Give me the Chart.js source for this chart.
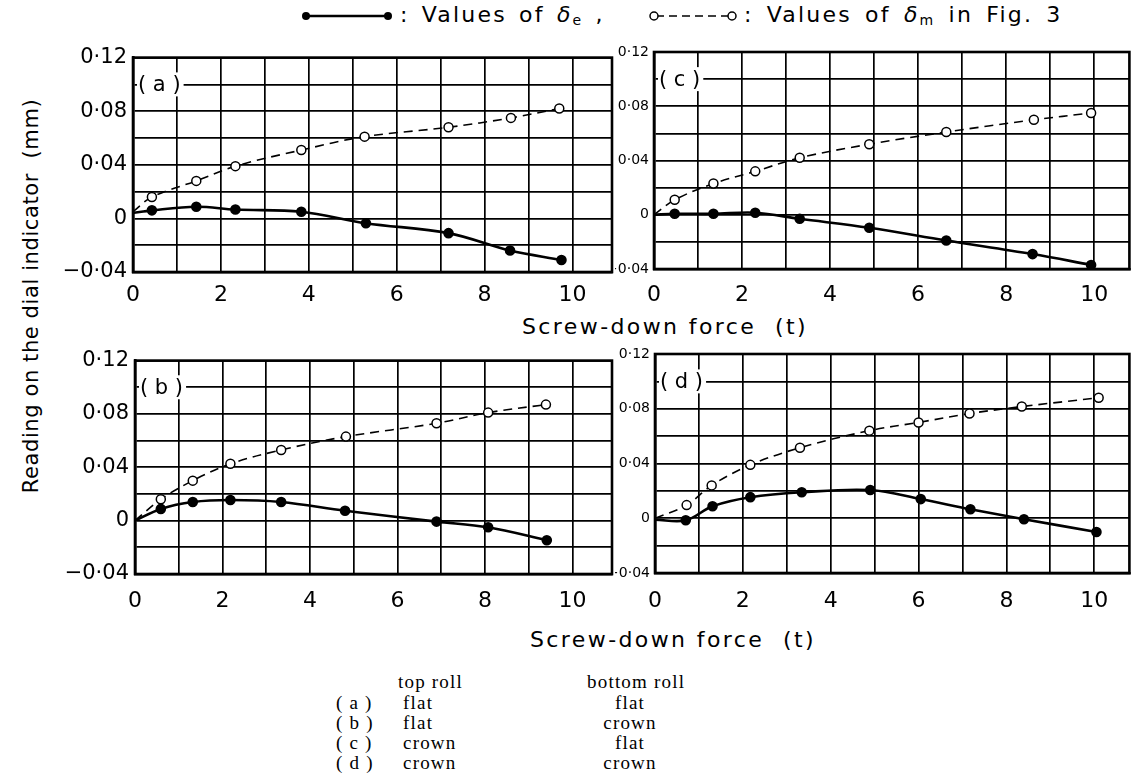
<!DOCTYPE html>
<html>
<head>
<meta charset="utf-8">
<script src="https://cdn.jsdelivr.net/npm/chart.js@4.4.1/dist/chart.umd.min.js"></script>
<style>
  body{margin:0;background:#fff;width:1136px;height:783px;position:relative;overflow:hidden;font-family:"DejaVu Sans",sans-serif;color:#000}
  canvas{position:absolute}
  .t{position:absolute;white-space:nowrap;font-size:22px;line-height:26px}
  .tab{position:absolute;white-space:nowrap;font-family:"Liberation Serif",serif;font-size:19px;line-height:20px;letter-spacing:1.2px}
  .c2{transform:translateX(-50%)}
  sub{font-size:14px;vertical-align:-3px;line-height:0}
</style>
</head>
<body>

<!-- legend -->
<svg style="position:absolute;left:300px;top:7px" width="94" height="18">
  <line x1="6" y1="9" x2="88" y2="9" stroke="#000" stroke-width="2.6"/>
  <circle cx="6" cy="9" r="4" fill="#000"/><circle cx="88" cy="9" r="4" fill="#000"/>
</svg>
<div class="t" style="left:400px;top:2px;letter-spacing:2.2px;word-spacing:3px">: Values of <i>δ</i><sub>e</sub> ,</div>
<svg style="position:absolute;left:646px;top:7px" width="94" height="18">
  <line x1="10" y1="9" x2="84" y2="9" stroke="#000" stroke-width="1.6" stroke-dasharray="8,5"/>
  <circle cx="8" cy="9" r="4" fill="#fff" stroke="#000" stroke-width="1.5"/>
  <circle cx="86" cy="9" r="4" fill="#fff" stroke="#000" stroke-width="1.5"/>
</svg>
<div class="t" style="left:744px;top:2px;letter-spacing:2.2px;word-spacing:4px">: Values of <i>δ</i><sub>m</sub> in Fig. 3</div>

<canvas id="pa" width="575" height="273" style="left:45px;top:39px"></canvas>
<canvas id="pc" width="521" height="274" style="left:615px;top:38px"></canvas>
<canvas id="pb" width="575" height="275" style="left:45px;top:342px"></canvas>
<canvas id="pd" width="521" height="277" style="left:615px;top:340px"></canvas>

<div class="t" style="left:522px;top:314px;letter-spacing:2.4px">Screw-down force&nbsp;&nbsp;(t)</div>
<div class="t" style="left:530px;top:627px;letter-spacing:2.4px">Screw-down force&nbsp;&nbsp;(t)</div>
<div class="t" style="left:31px;top:296px;font-size:21px;transform:translate(-50%,-50%) rotate(-90deg);letter-spacing:0.6px">Reading on the dial indicator&nbsp; (mm)</div>

<!-- roll table -->
<div class="tab" style="left:398px;top:672px">top roll</div>
<div class="tab" style="left:587px;top:672px">bottom roll</div>
<div class="tab" style="left:336px;top:693px">( a )</div>
<div class="tab" style="left:336px;top:713px">( b )</div>
<div class="tab" style="left:336px;top:733px">( c )</div>
<div class="tab" style="left:336px;top:753px">( d )</div>
<div class="tab" style="left:403px;top:693px">flat</div>
<div class="tab" style="left:403px;top:713px">flat</div>
<div class="tab" style="left:403px;top:733px">crown</div>
<div class="tab" style="left:403px;top:753px">crown</div>
<div class="tab c2" style="left:630px;top:693px">flat</div>
<div class="tab c2" style="left:630px;top:713px">crown</div>
<div class="tab c2" style="left:630px;top:733px">flat</div>
<div class="tab c2" style="left:630px;top:753px">crown</div>

<script>
// tick labels
const xLabelValues = [0, 2, 4, 6, 8, 10];
const yLabelValues = [-0.04, 0, 0.04, 0.08, 0.12];
const yLabelTexts = ['−0·04', '0', '0·04', '0·08', '0·12'];

// (a) flat / flat
const aForceM = [0, 0.43, 1.44, 2.33, 3.83, 5.27, 7.18, 8.60, 9.70];
const aDeltaM = [0.005, 0.016, 0.028, 0.039, 0.051, 0.061, 0.068, 0.075, 0.082];
const aForceE = [0, 0.43, 1.44, 2.33, 3.83, 5.30, 7.18, 8.58, 9.75];
const aDeltaE = [0.004, 0.006, 0.0087, 0.0066, 0.005, -0.0036, -0.011, -0.024, -0.031];

// (b) flat / crown
const bForceM = [0, 0.59, 1.32, 2.18, 3.34, 4.82, 6.89, 8.07, 9.39];
const bDeltaM = [0, 0.016, 0.030, 0.0426, 0.053, 0.063, 0.073, 0.081, 0.087];
const bForceE = [0, 0.59, 1.32, 2.18, 3.34, 4.80, 6.89, 8.07, 9.41];
const bDeltaE = [0, 0.0088, 0.014, 0.0155, 0.014, 0.0074, -0.0007, -0.005, -0.0147];

// (c) crown / flat
const cForceM = [0, 0.47, 1.35, 2.30, 3.31, 4.89, 6.64, 8.63, 9.93];
const cDeltaM = [0, 0.011, 0.023, 0.032, 0.042, 0.052, 0.061, 0.070, 0.075];
const cForceE = [0, 0.47, 1.35, 2.30, 3.31, 4.89, 6.64, 8.60, 9.93];
const cDeltaE = [0, 0.0007, 0.0007, 0.0015, -0.003, -0.0096, -0.019, -0.029, -0.037];

// (d) crown / crown
const dForceM = [0, 0.72, 1.29, 2.17, 3.30, 4.88, 6.00, 7.16, 8.35, 10.10];
const dDeltaM = [0, 0.0096, 0.024, 0.039, 0.0515, 0.064, 0.070, 0.0765, 0.0816, 0.088];
const dForceE = [0, 0.70, 1.31, 2.17, 3.34, 4.90, 6.05, 7.18, 8.40, 10.05];
const dDeltaE = [-0.001, -0.0015, 0.0088, 0.0154, 0.019, 0.0206, 0.014, 0.0066, -0.0007, -0.010];

const FONT = '"DejaVu Sans", sans-serif';

function pts(xs, ys){ return xs.map((x, i) => ({x: x, y: ys[i]})); }

// frame round the plot + panel letter sitting on the 0.10 line
const panelDecor = {
  id: 'panelDecor',
  beforeDatasetsDraw(chart, args, opts){
    const a = chart.chartArea, ctx = chart.ctx;
    ctx.save();
    ctx.strokeStyle = '#000'; ctx.lineWidth = 2.6;
    ctx.strokeRect(a.left, a.top, a.right - a.left, a.bottom - a.top);
    ctx.font = '21px ' + FONT;
    const y = chart.scales.y.getPixelForValue(0.10);
    const w = ctx.measureText(opts.text).width;
    ctx.fillStyle = '#fff';
    ctx.fillRect(a.left + 4, y - 12, w + 4, 24);
    ctx.fillStyle = '#000'; ctx.textBaseline = 'middle';
    ctx.fillText(opts.text, a.left + 5, y + 1);
    ctx.restore();
  }
};

function makePanel(id, fm, dm, fe, de, letter, o){
  const rE = fe.map(x => x === 0 ? 0 : 4);
  const rM = fm.map(x => x === 0 ? 0 : 4.5);
  return new Chart(document.getElementById(id), {
    type: 'line',
    data: {
      datasets: [
        { data: pts(fe, de), borderColor: '#000', borderWidth: 2.6, pointRadius: rE,
          pointBackgroundColor: '#000', pointBorderColor: '#000',
          tension: 0.35, fill: false, order: 0 },
        { data: pts(fm, dm), borderColor: '#000', borderWidth: 1.6, borderDash: [9, 6], pointRadius: rM,
          pointBackgroundColor: '#fff', pointBorderColor: '#000', pointBorderWidth: 1.5,
          tension: 0.35, fill: false, order: 1 }
      ]
    },
    options: {
      responsive: false,
      animation: false,
      layout: { padding: { top: 14, right: o.padRight, left: 0, bottom: 0 } },
      plugins: { legend: { display: false }, tooltip: { enabled: false }, panelDecor: { text: letter } },
      scales: {
        x: {
          type: 'linear', min: 0, max: o.xMax,
          ticks: {
            stepSize: 1, includeBounds: false, autoSkip: false, maxRotation: 0,
            padding: o.xPad, color: '#000', font: { family: FONT, size: 22 },
            callback: v => xLabelValues.some(t => Math.abs(t - v) < 1e-6) ? String(Math.round(v)) : ''
          },
          grid: { color: '#000', lineWidth: 1.7, drawTicks: false },
          border: { display: true, color: '#000', width: 2.6 },
          afterFit: s => { s.height = o.xH; }
        },
        y: {
          min: -0.04, max: 0.12,
          ticks: {
            stepSize: 0.02, includeBounds: false, autoSkip: false,
            padding: o.yPad, color: '#000', font: { family: FONT, size: o.yFont },
            callback: v => {
              const i = yLabelValues.findIndex(t => Math.abs(t - v) < 1e-6);
              return i < 0 ? '' : yLabelTexts[i];
            }
          },
          grid: { color: '#000', lineWidth: 1.7, drawTicks: false },
          border: { display: true, color: '#000', width: 2.6 },
          afterFit: s => { s.width = o.yW; }
        }
      }
    },
    plugins: [panelDecor]
  });
}

makePanel('pa', aForceM, aDeltaM, aForceE, aDeltaE, '( a )', { xMax: 10.9, padRight: 8, yW: 88, xH: 40, xPad: 10, yPad: 6, yFont: 21 });
makePanel('pc', cForceM, cDeltaM, cForceE, cDeltaE, '( c )', { xMax: 10.8, padRight: 3, yW: 39, xH: 43, xPad: 13, yPad: 5, yFont: 14 });
makePanel('pb', bForceM, bDeltaM, bForceE, bDeltaE, '( b )', { xMax: 10.9, padRight: 8, yW: 90, xH: 43, xPad: 14, yPad: 6, yFont: 21 });
makePanel('pd', dForceM, dDeltaM, dForceE, dDeltaE, '( d )', { xMax: 10.8, padRight: 3, yW: 40, xH: 44, xPad: 15, yPad: 5, yFont: 14 });
</script>
</body>
</html>
